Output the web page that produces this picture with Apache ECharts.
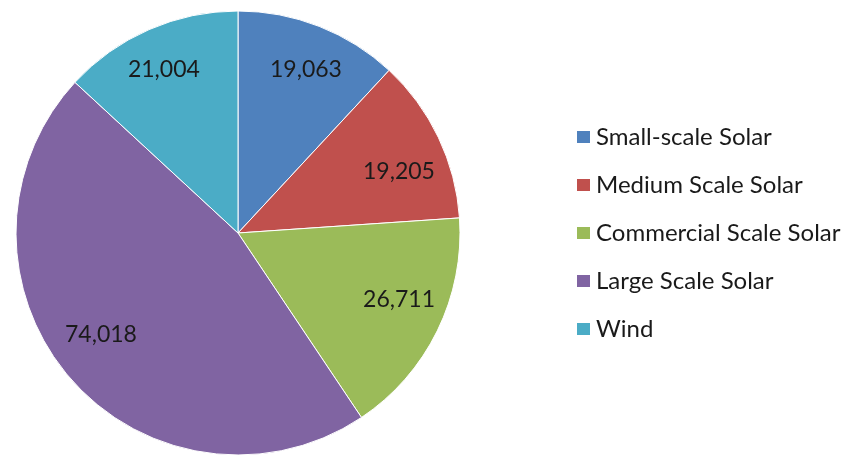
<!DOCTYPE html>
<html>
<head>
<meta charset="utf-8">
<script src="https://cdn.jsdelivr.net/npm/echarts@6/dist/echarts.min.js"></script>
<style>
  html, body { margin: 0; padding: 0; background: #ffffff; }
  #chart { width: 861px; height: 455px; }
</style>
</head>
<body>
<div id="chart"></div>
<script>
// Installed capacity by category
const categories = ['Small-scale Solar', 'Medium Scale Solar', 'Commercial Scale Solar', 'Large Scale Solar', 'Wind'];
const values = [19063, 19205, 26711, 74018, 21004];
const colors = ['#4F81BD', '#C0504D', '#9BBB59', '#8064A2', '#4BACC6'];
// small nudges so each value label sits comfortably inside its slice
const labelNudges = [[4, -1], [3, 14], [4, -11], [-4, -12], [-4, -3]];

const fontFamily = 'Lato, "Open Sans", sans-serif';

const sliceData = categories.map((name, i) => ({ name: name, value: values[i] }));
const labelData = categories.map((name, i) => ({
  name: name,
  value: values[i],
  label: { offset: labelNudges[i] }
}));

const chart = echarts.init(document.getElementById('chart'), null, { renderer: 'canvas' });
chart.setOption({
  animation: false,
  color: colors,
  legend: {
    orient: 'vertical',
    left: 575,
    top: 125,
    padding: 0,
    itemWidth: 15,
    itemHeight: 14,
    itemGap: 24,
    icon: 'rect',
    textStyle: { fontFamily: fontFamily, fontSize: 24, lineHeight: 24, color: '#1a1a1a' },
    data: categories
  },
  series: [
    {
      // the slices
      type: 'pie',
      center: [238, 233],
      radius: [0, 222],
      startAngle: 90,
      clockwise: true,
      data: sliceData,
      itemStyle: { borderColor: '#ffffff', borderWidth: 1 },
      label: { show: false },
      labelLine: { show: false },
      silent: true
    },
    {
      // transparent ring carrying the value labels further out from the centre
      type: 'pie',
      center: [238, 233],
      radius: [122, 222],
      startAngle: 90,
      clockwise: true,
      data: labelData,
      itemStyle: { color: 'rgba(0,0,0,0)' },
      label: {
        show: true,
        position: 'inside',
        formatter: p => p.value.toLocaleString('en-US'),
        fontFamily: fontFamily,
        fontSize: 23,
        color: '#1a1a1a'
      },
      labelLine: { show: false },
      silent: true
    }
  ]
});
</script>
</body>
</html>
